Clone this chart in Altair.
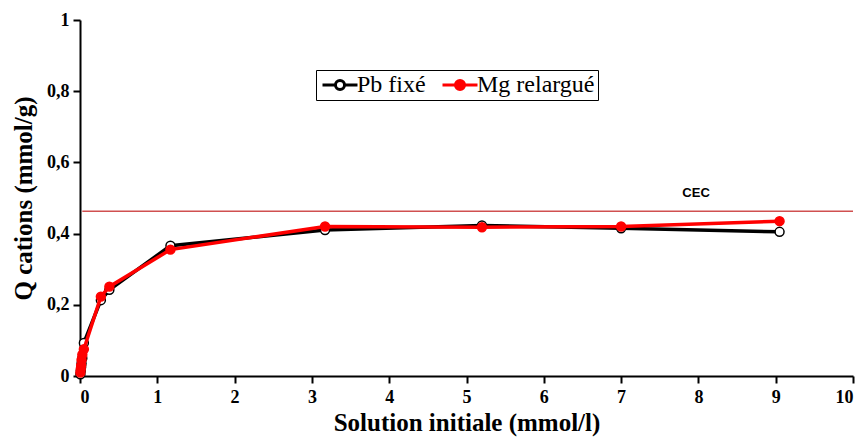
import altair as alt
import pandas as pd

# ---- data ----
x_vals = [0.005, 0.01, 0.015, 0.02, 0.03, 0.05, 0.27, 0.38, 1.17, 3.17, 5.2, 7.0, 9.05]
pb_fixe = [0.005, 0.015, 0.025, 0.035, 0.05, 0.093, 0.213, 0.242, 0.366, 0.41, 0.423, 0.415, 0.405]
mg_relargue = [0.01, 0.02, 0.03, 0.045, 0.06, 0.075, 0.223, 0.251, 0.355, 0.42, 0.418, 0.42, 0.435]
series_names = ["Pb fixé", "Mg relargué"]
cec_value = [0.463]
cec_label = ["CEC"]
cec_label_pos = [(7.97, 0.514)]
x_ticks = list(range(0, 11))
y_ticks = [0, 0.2, 0.4, 0.6, 0.8, 1.0]

rows = []
for i, x in enumerate(x_vals):
    rows.append({"x": x, "y": pb_fixe[i], "series": series_names[0], "i": i})
    rows.append({"x": x, "y": mg_relargue[i], "series": series_names[1], "i": i})
df = pd.DataFrame(rows)

cec_df = pd.DataFrame({"y": cec_value, "x0": [0.03], "x1": [10]})
lab_df = pd.DataFrame({"x": [p[0] for p in cec_label_pos], "y": [p[1] for p in cec_label_pos], "t": cec_label})

SERIF = "Liberation Serif"
# symbol: line with a small circle, extends beyond the unit box horizontally
sym = "M-2.5,0H-0.65M0.65,0H2.5M-0.65,0A0.65,0.65,0,1,1,0.65,0A0.65,0.65,0,1,1,-0.65,0Z"

leg = alt.Legend(
    title=None, orient="none", legendX=236, legendY=50, direction="horizontal",
    symbolType=sym, symbolSize=196, symbolStrokeWidth=3, symbolOffset=9,
    labelFont=SERIF, labelFontSize=24, labelFontWeight="normal", labelColor="black",
    strokeColor="black", padding=3, columnPadding=10, labelOffset=5,
)

xs = alt.Scale(domain=[0, 10], nice=False, zero=False)
ys = alt.Scale(domain=[0, 1], nice=False)
xenc = alt.X("x:Q", scale=xs, axis=alt.Axis(
    values=x_ticks, title="Solution initiale (mmol/l)", format="d"))
yenc = alt.Y("y:Q", scale=ys, axis=alt.Axis(
    values=y_ticks, title="Q cations (mmol/g)",
    labelExpr="datum.value == 0 ? '0' : datum.value == 1 ? '1' : replace(format(datum.value, '.1f'), '.', ',')"))
cenc = alt.Color("series:N", scale=alt.Scale(domain=series_names, range=["black", "#ff0000"]), legend=leg)
fenc = alt.Fill("series:N", scale=alt.Scale(domain=series_names, range=["white", "#ff0000"]), legend=leg)

layers = []
cec_rule = alt.Chart(cec_df).mark_rule(color="#d05050", strokeWidth=1.5).encode(
    x=alt.X("x0:Q", scale=xs), x2="x1:Q", y=alt.Y("y:Q", scale=ys))
cec_text = alt.Chart(lab_df).mark_text(font="Liberation Sans", fontWeight="bold", fontSize=13, color="black").encode(
    x=alt.X("x:Q", scale=xs), y=alt.Y("y:Q", scale=ys), text="t:N")
layers += [cec_rule, cec_text]
for s in series_names:
    base = alt.Chart(df).transform_filter(alt.datum.series == s)
    line = base.mark_line(strokeWidth=3.5).encode(x=xenc, y=yenc, color=cenc, order="i:Q")
    pts = base.mark_point(shape="circle", size=80, strokeWidth=1.5, opacity=1, filled=False).encode(
        x=xenc, y=yenc, color=cenc, fill=fenc)
    layers += [line, pts]

chart = alt.layer(*layers).properties(
    width=773, height=356, autosize="none",
    padding={"left": 72, "top": 12, "right": 7, "bottom": 64},
).configure_view(stroke=None).configure_axis(
    domainColor="black", domainWidth=2, tickColor="black", tickWidth=2, tickSize=7,
    grid=False, labelFont=SERIF, labelFontSize=18, labelFontWeight="bold", labelColor="black",
    titleFont=SERIF, titleFontSize=25, titleFontWeight="bold", titleColor="black",
).configure_axisY(labelPadding=4, titlePadding=10).configure_axisX(labelPadding=5, titlePadding=4)

chart.save("out.html", embed_options={"renderer": "svg", "actions": False})
